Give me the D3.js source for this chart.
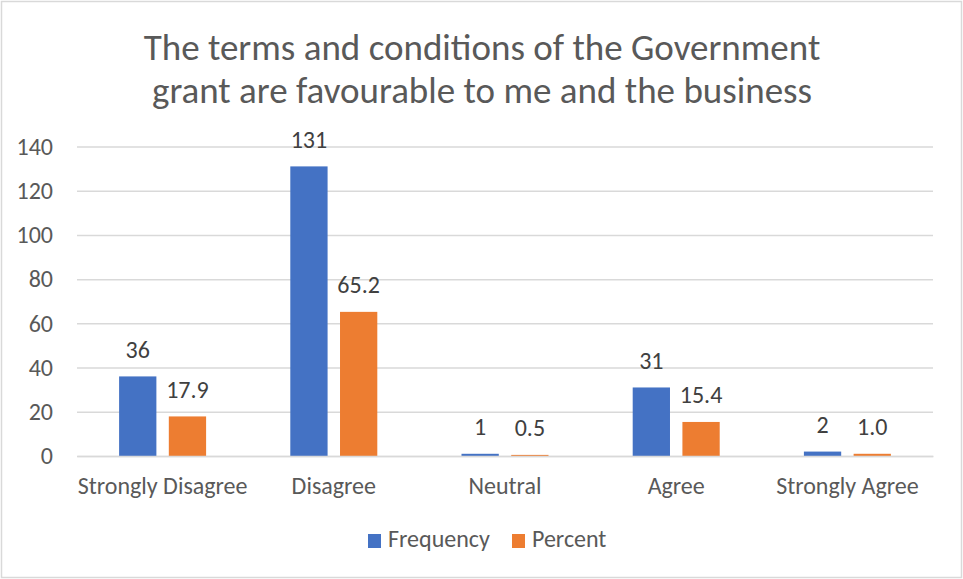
<!DOCTYPE html>
<html>
    <head>
        <title>Government grant terms</title>
        <script src="https://d3js.org/d3.v7.min.js"></script>
        <style>
            body { margin: 0; background: white; }
            text { font-family: Carlito, Calibri, 'Open Sans', 'Liberation Sans', sans-serif; }
        </style>
    </head>
    <body>
        <svg id='canvas' width=963 height=579></svg>
        <script>
            // data
            const categories = ['Strongly Disagree', 'Disagree', 'Neutral', 'Agree', 'Strongly Agree']
            const frequency = [36, 131, 1, 31, 2]
            const percent = [17.9, 65.2, 0.5, 15.4, 1.0]
            const seriesNames = ['Frequency', 'Percent']
            const yTicks = [0, 20, 40, 60, 80, 100, 120, 140]
            const titleLines = ['The terms and conditions of the Government', 'grant are favourable to me and the business']

            // colors
            const blue = '#4472C4'
            const orange = '#ED7D31'
            const textGrey = '#595959'
            const labelGrey = '#404040'
            const gridGrey = '#D9D9D9'
            const fontStack = "Carlito, Calibri, 'Open Sans', 'Liberation Sans', sans-serif"

            const svg = d3.select('#canvas')
            const margin = { top: 146.5, right: 30, bottom: 123, left: 77 }
            const width = svg.attr('width') - margin.left - margin.right
            const height = svg.attr('height') - margin.top - margin.bottom

            // outer chart border
            svg.append('rect')
                .attr('x', 1.5).attr('y', 1.5)
                .attr('width', 960).attr('height', 576)
                .attr('fill', 'white')
                .attr('stroke', '#D9D9D9')
                .attr('stroke-width', 1.5)

            svg.selectAll('.title')
                .data(titleLines)
                .enter()
                .append('text')
                    .attr('class', 'title')
                    .attr('x', 482)
                    .attr('y', (d, i) => 60 + i * 43)
                    .attr('text-anchor', 'middle')
                    .attr('font-size', 37)
                    .attr('fill', textGrey)
                    .text(d => d)

            const g = svg.append('g')
                .attr('transform', `translate(${margin.left}, ${margin.top})`)

            const xScale = d3.scaleBand().domain(categories).range([0, width])
            const yScale = d3.scaleLinear().domain([0, 140]).range([height, 0])
            const inner = d3.scaleBand().domain(seriesNames).range([0, 87]).paddingInner(0.25)
            const innerOffset = (xScale.bandwidth() - 87) / 2

            // gridlines
            g.append('g')
                .call(d3.axisLeft(yScale).tickValues(yTicks).tickSize(-width).tickFormat(''))
                .call(a => a.select('.domain').remove())
                .call(a => a.selectAll('line').attr('stroke', gridGrey).attr('stroke-width', 1.5))

            // y tick labels
            g.append('g')
                .call(d3.axisLeft(yScale).tickValues(yTicks).tickSize(0).tickPadding(24))
                .call(a => a.select('.domain').remove())
                .call(a => a.selectAll('text')
                    .attr('font-size', 24)
                    .attr('fill', textGrey)
                    .style('font-family', fontStack))

            const rows = categories.map((c, i) => ({ c, values: [frequency[i], percent[i]] }))
            const colors = [blue, orange]

            const groups = g.selectAll('.grp')
                .data(rows)
                .enter()
                .append('g')
                    .attr('transform', d => `translate(${xScale(d.c) + innerOffset}, 0)`)

            groups.selectAll('rect')
                .data(d => d.values.map((v, j) => ({ v, j })))
                .enter()
                .append('rect')
                    .attr('x', d => inner(seriesNames[d.j]))
                    .attr('y', d => yScale(d.v))
                    .attr('width', inner.bandwidth())
                    .attr('height', d => Math.max(yScale(0) - yScale(d.v), 0))
                    .attr('fill', d => colors[d.j])

            groups.selectAll('.lbl')
                .data(d => d.values.map((v, j) => ({ v, j })))
                .enter()
                .append('text')
                    .attr('x', d => inner(seriesNames[d.j]) + inner.bandwidth() / 2)
                    .attr('y', d => yScale(d.v) - 18.5)
                    .attr('text-anchor', 'middle')
                    .attr('font-size', 24)
                    .attr('fill', labelGrey)
                    .text(d => d.j === 1 ? d.v.toFixed(1) : d.v)

            // x axis line and labels
            g.append('g')
                .attr('transform', `translate(0, ${height})`)
                .call(d3.axisBottom(xScale).tickSize(0).tickPadding(21))
                .call(a => a.select('.domain').attr('stroke', gridGrey).attr('stroke-width', 1.5))
                .call(a => a.selectAll('text')
                    .attr('font-size', 24)
                    .attr('fill', textGrey)
                    .style('font-family', fontStack))

            // legend
            const legendX = [368, 512]
            const legend = svg.selectAll('.legend')
                .data(seriesNames)
                .enter()
                .append('g')
                    .attr('transform', (d, i) => `translate(${legendX[i]}, 534)`)
            legend.append('rect')
                .attr('width', 13).attr('height', 14)
                .attr('fill', (d, i) => colors[i])
            legend.append('text')
                .attr('x', 20).attr('y', 13)
                .attr('font-size', 24)
                .attr('fill', textGrey)
                .text(d => d)
        </script>
    </body>
</html>
